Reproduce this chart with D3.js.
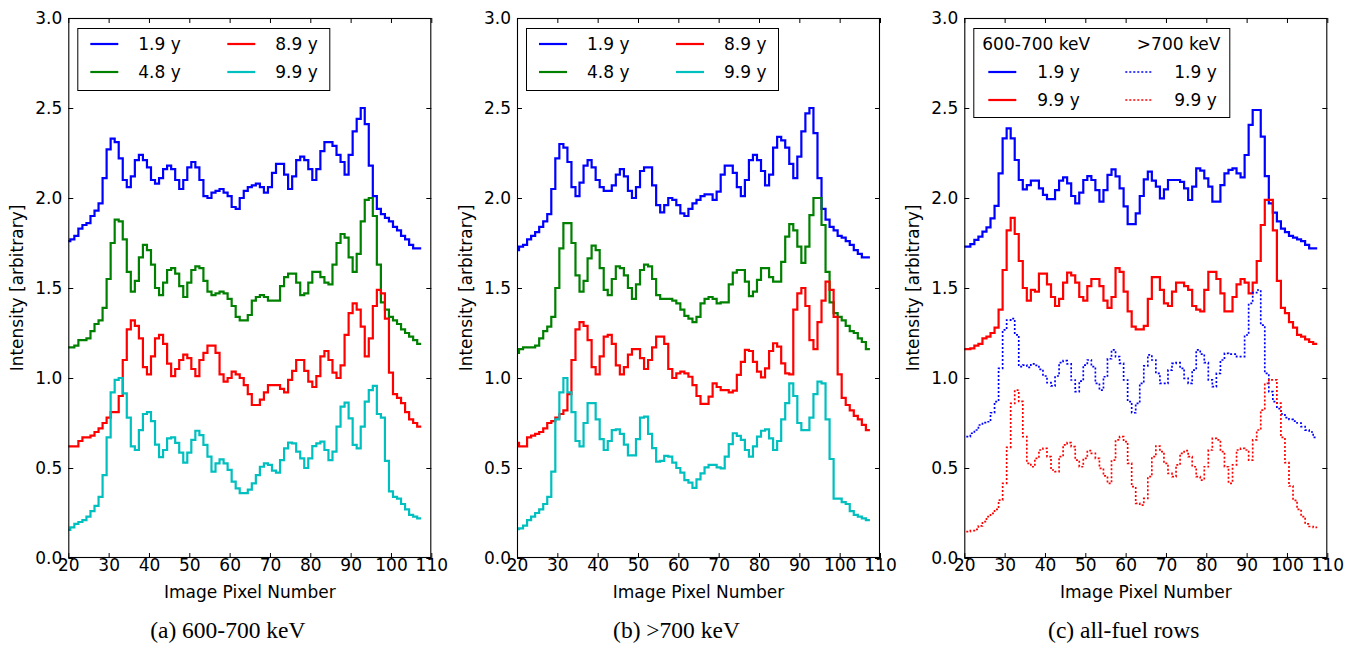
<!DOCTYPE html>
<html>
<head>
<meta charset="utf-8">
<script src="https://cdn.jsdelivr.net/npm/d3@7"></script>
<style>
  body { margin: 0; background: #fff; }
  svg { display: block; }
  .tick text, .lbl { font-family: "DejaVu Sans", sans-serif; font-size: 17px; fill: #000; }
  .cap { font-family: "Liberation Serif", "Times New Roman", serif; font-size: 23.5px; fill: #000; }
</style>
</head>
<body>
<svg id="fig" width="1366" height="646"></svg>
<script>
// Detector pixel index of each profile sample
const pixels = d3.range(20, 108);

// (a) 600-700 keV profiles
const a_1_9 = [1.76,1.77,1.79,1.83,1.85,1.86,1.90,1.93,1.97,2.11,
  2.27,2.33,2.31,2.22,2.10,2.06,2.12,2.21,2.24,2.21,
  2.17,2.10,2.08,2.11,2.16,2.18,2.16,2.10,2.05,2.10,
  2.17,2.20,2.17,2.10,2.01,2.00,2.03,2.04,2.05,2.03,
  2.01,1.95,1.94,2.00,2.04,2.06,2.07,2.08,2.06,2.03,
  2.06,2.14,2.19,2.19,2.13,2.05,2.12,2.21,2.23,2.21,
  2.16,2.10,2.16,2.26,2.31,2.31,2.29,2.24,2.20,2.13,
  2.24,2.37,2.44,2.50,2.41,2.18,2.01,1.94,1.91,1.89,
  1.87,1.84,1.82,1.79,1.77,1.74,1.72,1.72];
const a_4_8 = [1.17,1.17,1.18,1.21,1.21,1.22,1.26,1.30,1.32,1.39,
  1.55,1.75,1.88,1.87,1.77,1.59,1.48,1.54,1.67,1.74,
  1.71,1.63,1.50,1.46,1.53,1.60,1.61,1.58,1.51,1.45,
  1.53,1.60,1.62,1.61,1.54,1.48,1.46,1.47,1.48,1.47,
  1.44,1.40,1.34,1.32,1.32,1.35,1.43,1.45,1.46,1.45,
  1.43,1.43,1.43,1.51,1.56,1.58,1.58,1.53,1.46,1.47,
  1.53,1.59,1.59,1.56,1.53,1.52,1.63,1.75,1.80,1.78,
  1.67,1.59,1.69,1.87,1.99,2.00,1.90,1.63,1.42,1.38,
  1.34,1.32,1.30,1.27,1.25,1.23,1.21,1.19];
const a_8_9 = [0.62,0.62,0.62,0.65,0.67,0.67,0.68,0.70,0.72,0.75,
  0.78,0.81,0.81,0.90,1.10,1.27,1.32,1.29,1.22,1.06,
  1.02,1.12,1.22,1.24,1.19,1.08,1.01,1.05,1.10,1.13,
  1.11,1.05,1.01,1.10,1.14,1.18,1.18,1.14,1.02,0.98,
  1.00,1.035,1.02,1.00,0.96,0.91,0.85,0.85,0.88,0.92,
  0.96,0.96,0.96,0.94,0.92,0.99,1.04,1.10,1.10,1.04,
  0.98,0.95,1.01,1.12,1.15,1.10,1.03,1.00,1.07,1.24,
  1.36,1.415,1.38,1.285,1.12,1.22,1.40,1.49,1.47,1.33,
  1.03,0.91,0.89,0.86,0.81,0.77,0.75,0.73];
const a_9_9 = [0.156,0.17,0.19,0.20,0.21,0.23,0.26,0.29,0.34,0.46,
  0.67,0.92,0.99,1.00,0.915,0.78,0.62,0.60,0.71,0.80,
  0.81,0.76,0.63,0.56,0.60,0.665,0.67,0.64,0.585,0.53,
  0.585,0.656,0.707,0.683,0.628,0.563,0.48,0.526,0.548,0.526,
  0.49,0.424,0.387,0.36,0.36,0.38,0.415,0.46,0.507,0.526,
  0.517,0.485,0.474,0.544,0.609,0.641,0.637,0.591,0.554,0.50,
  0.554,0.622,0.637,0.646,0.60,0.544,0.591,0.73,0.841,0.863,
  0.776,0.628,0.609,0.73,0.869,0.933,0.956,0.80,0.78,0.54,
  0.37,0.34,0.33,0.30,0.27,0.24,0.23,0.22];

// (b) >700 keV profiles
const b_1_9 = [1.71,1.73,1.74,1.77,1.79,1.81,1.84,1.87,1.91,2.05,
  2.22,2.30,2.28,2.20,2.06,2.01,2.085,2.18,2.21,2.17,
  2.10,2.06,2.04,2.04,2.07,2.13,2.16,2.12,2.04,2.00,
  2.06,2.15,2.17,2.17,2.07,1.96,1.92,1.96,2.00,1.99,
  1.96,1.915,1.90,1.94,1.97,1.99,2.01,2.02,2.02,1.99,
  2.035,2.13,2.18,2.18,2.14,2.06,2.01,2.10,2.21,2.24,
  2.21,2.15,2.07,2.13,2.28,2.34,2.32,2.28,2.19,2.11,
  2.23,2.37,2.47,2.50,2.36,2.11,1.94,1.88,1.84,1.82,
  1.79,1.78,1.76,1.74,1.71,1.69,1.67,1.67];
const b_4_8 = [1.14,1.16,1.17,1.17,1.17,1.18,1.22,1.26,1.285,1.34,
  1.50,1.72,1.86,1.86,1.75,1.57,1.48,1.54,1.665,1.735,
  1.71,1.61,1.49,1.46,1.55,1.62,1.61,1.57,1.50,1.44,
  1.52,1.60,1.63,1.62,1.55,1.46,1.44,1.44,1.44,1.43,
  1.415,1.38,1.345,1.33,1.31,1.34,1.415,1.44,1.45,1.44,
  1.415,1.42,1.42,1.52,1.585,1.60,1.60,1.535,1.455,1.48,
  1.545,1.61,1.61,1.56,1.535,1.535,1.645,1.785,1.855,1.82,
  1.73,1.64,1.73,1.905,2.00,2.00,1.85,1.59,1.42,1.36,
  1.34,1.32,1.29,1.26,1.25,1.22,1.20,1.16];
const b_8_9 = [0.64,0.62,0.62,0.67,0.68,0.69,0.70,0.72,0.75,0.76,
  0.78,0.80,0.82,0.91,1.10,1.27,1.31,1.29,1.21,1.06,
  1.02,1.12,1.23,1.24,1.19,1.07,1.02,1.06,1.13,1.16,
  1.16,1.11,1.05,1.10,1.17,1.23,1.23,1.19,1.05,1.00,
  1.026,1.035,1.026,1.007,0.96,0.90,0.856,0.856,0.896,0.97,
  0.95,0.933,0.933,0.92,0.93,1.017,1.09,1.156,1.15,1.09,
  1.035,1.004,1.054,1.15,1.193,1.174,1.081,1.026,1.02,1.38,
  1.47,1.50,1.40,1.21,1.16,1.31,1.43,1.535,1.49,1.34,
  1.02,0.89,0.85,0.82,0.79,0.77,0.74,0.71];
const b_9_9 = [0.16,0.165,0.18,0.21,0.23,0.25,0.27,0.30,0.34,0.48,
  0.77,0.92,1.00,0.92,0.81,0.65,0.62,0.75,0.86,0.86,
  0.77,0.66,0.60,0.65,0.71,0.715,0.69,0.63,0.57,0.57,
  0.66,0.78,0.785,0.69,0.61,0.535,0.54,0.567,0.563,0.53,
  0.50,0.474,0.433,0.419,0.39,0.437,0.47,0.504,0.517,0.517,
  0.504,0.498,0.563,0.633,0.693,0.678,0.656,0.60,0.563,0.62,
  0.674,0.707,0.715,0.665,0.60,0.65,0.77,0.86,0.97,0.90,
  0.75,0.71,0.71,0.78,0.91,0.98,0.97,0.77,0.55,0.33,
  0.33,0.31,0.30,0.26,0.24,0.23,0.22,0.21];

// (c) all-fuel rows, both energy windows
const c_lo_1_9 = [1.73,1.73,1.744,1.767,1.785,1.813,1.837,1.887,1.956,2.137,
  2.331,2.387,2.331,2.211,2.10,2.048,2.072,2.096,2.096,2.054,
  2.017,1.994,1.994,2.044,2.096,2.115,2.081,2.011,1.97,2.03,
  2.10,2.122,2.10,2.044,1.98,2.044,2.128,2.159,2.12,2.054,
  1.954,1.855,1.855,1.915,2.011,2.104,2.146,2.096,2.063,1.998,
  2.048,2.10,2.10,2.10,2.09,2.054,1.989,2.063,2.165,2.152,
  2.109,2.063,1.98,1.98,2.072,2.137,2.156,2.165,2.137,2.115,
  2.239,2.406,2.489,2.489,2.341,2.122,1.97,1.919,1.87,1.83,
  1.81,1.79,1.78,1.77,1.76,1.74,1.72,1.72];
const c_lo_9_9 = [1.16,1.16,1.165,1.18,1.19,1.22,1.23,1.25,1.28,1.38,
  1.60,1.82,1.89,1.80,1.65,1.50,1.43,1.49,1.48,1.58,
  1.58,1.52,1.45,1.40,1.44,1.53,1.585,1.57,1.53,1.45,
  1.43,1.51,1.55,1.55,1.51,1.43,1.39,1.45,1.61,1.59,
  1.48,1.37,1.285,1.27,1.27,1.29,1.44,1.56,1.56,1.49,
  1.415,1.40,1.48,1.53,1.53,1.51,1.49,1.40,1.38,1.37,
  1.49,1.59,1.59,1.55,1.47,1.37,1.37,1.45,1.52,1.55,
  1.53,1.47,1.53,1.65,1.85,1.99,1.99,1.82,1.54,1.39,
  1.36,1.31,1.28,1.24,1.23,1.215,1.20,1.19];
const c_hi_1_9 = [0.674,0.674,0.693,0.711,0.739,0.752,0.757,0.807,0.869,1.054,
  1.267,1.322,1.33,1.24,1.063,1.072,1.059,1.078,1.07,1.048,
  1.011,0.974,0.956,1.011,1.085,1.096,1.078,0.989,0.924,0.983,
  1.072,1.10,1.063,0.97,0.933,1.007,1.107,1.156,1.119,1.081,
  0.989,0.869,0.807,0.859,0.97,1.067,1.128,1.10,1.026,0.97,
  0.97,1.044,1.081,1.085,1.054,0.998,0.97,1.044,1.156,1.133,
  1.085,0.99,0.952,1.026,1.10,1.137,1.133,1.133,1.119,1.119,
  1.239,1.415,1.474,1.489,1.294,1.026,0.924,0.869,0.83,0.80,
  0.78,0.77,0.76,0.75,0.73,0.71,0.70,0.67];
const c_hi_9_9 = [0.146,0.146,0.152,0.159,0.178,0.202,0.23,0.248,0.27,0.322,
  0.415,0.615,0.859,0.933,0.87,0.674,0.526,0.507,0.554,0.60,
  0.609,0.563,0.489,0.48,0.563,0.628,0.641,0.619,0.544,0.507,
  0.554,0.596,0.581,0.554,0.498,0.456,0.415,0.544,0.656,0.674,
  0.646,0.526,0.396,0.304,0.294,0.331,0.452,0.563,0.622,0.591,
  0.526,0.47,0.452,0.517,0.581,0.596,0.563,0.507,0.452,0.433,
  0.507,0.60,0.665,0.656,0.591,0.507,0.415,0.517,0.60,0.609,
  0.60,0.544,0.656,0.711,0.822,0.97,0.99,0.99,0.86,0.67,
  0.53,0.40,0.32,0.27,0.23,0.19,0.175,0.17];

const xTicks = [20, 30, 40, 50, 60, 70, 80, 90, 100, 110];
const yTicks = [0.0, 0.5, 1.0, 1.5, 2.0, 2.5, 3.0];
const xLabel = "Image Pixel Number";
const yLabel = "Intensity [arbitrary]";

const BLUE = "#0000ff", GREEN = "#008000", RED = "#ff0000", CYAN = "#00bfbf";

const panels = [
  { left: 68.3, caption: "(a) 600-700 keV", kind: "grid",
    series: [
      { label: "1.9 y", values: a_1_9, color: BLUE },
      { label: "4.8 y", values: a_4_8, color: GREEN },
      { label: "8.9 y", values: a_8_9, color: RED },
      { label: "9.9 y", values: a_9_9, color: CYAN } ] },
  { left: 517, caption: "(b) >700 keV", kind: "grid",
    series: [
      { label: "1.9 y", values: b_1_9, color: BLUE },
      { label: "4.8 y", values: b_4_8, color: GREEN },
      { label: "8.9 y", values: b_8_9, color: RED },
      { label: "9.9 y", values: b_9_9, color: CYAN } ] },
  { left: 964.3, caption: "(c) all-fuel rows", kind: "split",
    heads: ["600-700 keV", ">700 keV"],
    series: [
      { label: "1.9 y", values: c_lo_1_9, color: BLUE },
      { label: "9.9 y", values: c_lo_9_9, color: RED },
      { label: "1.9 y", values: c_hi_1_9, color: BLUE, dotted: true },
      { label: "9.9 y", values: c_hi_9_9, color: RED, dotted: true } ] }
];

const W = 363, TOP = 18, H = 540;
const svg = d3.select("#fig");

function styleLine(sel, s) {
  sel.attr("fill", "none").attr("stroke", s.color)
     .attr("stroke-width", s.dotted ? 1.7 : 2.2)
     .attr("stroke-dasharray", s.dotted ? "2,2" : null)
     .attr("stroke-linejoin", "miter");
}

panels.forEach((p, pi) => {
  const x = d3.scaleLinear().domain([20, 110]).range([0, W]);
  const y = d3.scaleLinear().domain([0, 3]).range([H, 0]);
  const g = svg.append("g").attr("transform", `translate(${p.left},${TOP})`);

  const clipId = "clip" + pi;
  g.append("clipPath").attr("id", clipId)
    .append("rect").attr("width", W).attr("height", H);

  // step profiles, each sample covering one full pixel bin
  const line = d3.line().x(d => x(d[0])).y(d => y(d[1])).curve(d3.curveStep);
  const plot = g.append("g").attr("clip-path", `url(#${clipId})`);
  p.series.forEach(s => {
    const pts = pixels.map((px, i) => [px, s.values[i]]);
    const n = pts.length;
    pts.unshift([pts[0][0] - 0.5, pts[0][1]]);
    pts.push([pts[n][0] + 0.5, pts[n][1]]);
    plot.append("path").attr("d", line(pts)).call(styleLine, s);
  });

  // axes with inward ticks on all four sides
  const bottom = g.append("g").attr("transform", `translate(0,${H})`)
    .call(d3.axisBottom(x).tickValues(xTicks).tickFormat(d3.format("d"))
      .tickSizeInner(-5).tickSizeOuter(0).tickPadding(0));
  const left = g.append("g")
    .call(d3.axisLeft(y).tickValues(yTicks).tickFormat(d3.format(".1f"))
      .tickSizeInner(-5).tickSizeOuter(0).tickPadding(6));
  const top = g.append("g")
    .call(d3.axisTop(x).tickValues(xTicks).tickFormat("").tickSizeInner(-5).tickSizeOuter(0));
  const right = g.append("g").attr("transform", `translate(${W},0)`)
    .call(d3.axisRight(y).tickValues(yTicks).tickFormat("").tickSizeInner(-5).tickSizeOuter(0));
  [bottom, left, top, right].forEach(a => {
    a.select(".domain").remove();
    a.selectAll(".tick line").attr("stroke", "#000").attr("stroke-width", 1);
    a.attr("font-family", null).attr("font-size", null);
  });
  bottom.selectAll(".tick text").attr("dy", "0.75em");

  g.append("rect").attr("x", 0.5).attr("y", 0.5).attr("width", W - 1).attr("height", H - 1)
    .attr("fill", "none").attr("stroke", "#000").attr("stroke-width", 1.1);

  // axis titles
  g.append("text").attr("class", "lbl").attr("x", W / 2).attr("y", 580)
    .attr("text-anchor", "middle").text(xLabel);
  g.append("text").attr("class", "lbl")
    .attr("transform", `translate(-45,${H / 2}) rotate(-90)`)
    .attr("text-anchor", "middle").text(yLabel);

  // legend
  const lg = g.append("g").attr("transform", "translate(9,10)");
  if (p.kind === "grid") {
    lg.append("rect").attr("x", 0.5).attr("y", 0.5).attr("width", 252).attr("height", 62)
      .attr("fill", "#fff").attr("stroke", "#000").attr("stroke-width", 1);
    p.series.forEach((s, i) => {
      const col = Math.floor(i / 2), row = i % 2;
      const lx = 13 + col * 137, ly = 16 + row * 28;
      lg.append("line").attr("x1", lx).attr("x2", lx + 28).attr("y1", ly).attr("y2", ly).call(styleLine, s);
      lg.append("text").attr("class", "lbl").attr("x", lx + 48).attr("y", ly).attr("dy", "0.36em").text(s.label);
    });
  } else {
    lg.append("rect").attr("x", 0.5).attr("y", 0.5).attr("width", 256).attr("height", 89)
      .attr("fill", "#fff").attr("stroke", "#000").attr("stroke-width", 1);
    p.heads.forEach((h, c) => {
      lg.append("text").attr("class", "lbl").attr("x", c === 0 ? 9 : 247).attr("y", 16)
        .attr("dy", "0.36em").attr("text-anchor", c === 0 ? "start" : "end").text(h);
    });
    p.series.forEach((s, i) => {
      const col = Math.floor(i / 2), row = i % 2;
      const lx = 15 + col * 137, ly = 44 + row * 28;
      lg.append("line").attr("x1", lx).attr("x2", lx + 28).attr("y1", ly).attr("y2", ly).call(styleLine, s);
      lg.append("text").attr("class", "lbl").attr("x", lx + 49).attr("y", ly).attr("dy", "0.36em").text(s.label);
    });
  }

  // sub-figure caption
  svg.append("text").attr("class", "cap")
    .attr("x", p.left + W / 2 - 22).attr("y", 638)
    .attr("text-anchor", "middle").text(p.caption);
});
</script>
</body>
</html>
